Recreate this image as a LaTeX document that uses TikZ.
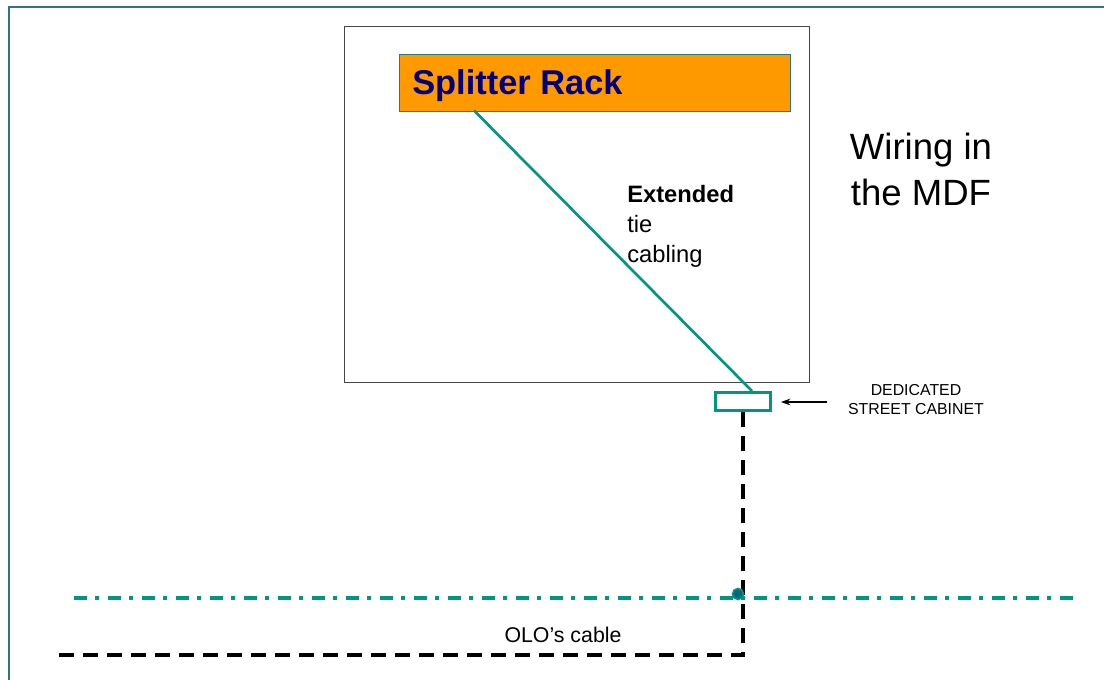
\documentclass[tikz,border=0pt]{standalone}
\usepackage{fontspec}
\setmainfont{Liberation Sans}
\usetikzlibrary{calc,arrows.meta}
\definecolor{tealc}{RGB}{0,150,130}
\definecolor{framec}{RGB}{40,120,135}
\definecolor{dotc}{RGB}{0,105,120}
\definecolor{navyc}{RGB}{0,0,128}
\definecolor{orangec}{RGB}{255,153,0}
\definecolor{grayc}{RGB}{70,70,70}
\tikzset{
  boxmdf/.style={draw=grayc,line width=1.1pt,minimum width=465*0.75pt,minimum height=356*0.75pt,anchor=north west,inner sep=0},
  rackbox/.style={draw=framec,line width=0.8pt,fill=orangec,minimum width=391*0.75pt,minimum height=57*0.75pt,anchor=north west,inner sep=0},
  cabbox/.style={draw=tealc,line width=2.2pt,minimum width=55*0.75pt,minimum height=18*0.75pt,inner sep=0},
  tieline/.style={draw=tealc,line width=2pt},
  olocable/.style={draw=black,line width=3pt,dash pattern=on 11.25pt off 6.75pt},
  boundary/.style={draw=tealc,line width=2.3pt,dash pattern=on 9.75pt off 6pt on 3pt off 6.75pt},
  lbl/.style={inner sep=0,align=left}
}
\begin{document}
\begin{tikzpicture}[x=0.75pt,y=-0.75pt]
\useasboundingbox (0,0) rectangle (1104,680);
\fill[white] (0,0) rectangle (1104,680);
% outer frame
\draw[framec,line width=1.6pt] (9,682) -- (9,7) -- (1106,7);
% MDF box
\node[boxmdf] (mdf) at (344,26) {};
% splitter rack
\node[rackbox] (rack) at (399,54) {};
\node[lbl,anchor=base west,font=\bfseries\fontsize{25.8}{30}\selectfont,text=navyc] (racktxt) at (412,95) {Splitter Rack};
% cabinet
\node[cabbox] (cab) at (743,401.5) {};
\coordinate (tiestart) at (474,110.5);
\draw[tieline] (tiestart) -- (cab.north -| 752,0);
% labels
\node[lbl,anchor=north west,font=\fontsize{17.8}{22.5}\selectfont] (tie) at (627,185) {\textbf{Extended}\\tie\\cabling};
\node[align=center,inner sep=0,font=\fontsize{27.4}{34.5}\selectfont] (wiring) at (921,169) {Wiring in\\the MDF};
\node[align=center,inner sep=0,font=\fontsize{11.9}{14.2}\selectfont] (cabtxt) at (916,400) {DEDICATED\\STREET CABINET};
\coordinate (arrfrom) at (827,402);
\draw[-{Stealth[length=7pt,width=5pt]},line width=0.8pt] (arrfrom) -- ($(cab.east)+(9,0.5)$);
% boundary line
\coordinate (bl) at (74,598);
\coordinate (br) at (1080,598);
\draw[boundary] (bl) -- (br);
% OLO cable
\coordinate (corner) at (743,655);
\coordinate (oloend) at (56,655);
\draw[olocable] (cab.south) -- (corner) -- (oloend);
\node[circle,fill=dotc,draw=tealc,line width=1.2pt,minimum size=11*0.75pt,inner sep=0] (junction) at (738,594) {};
\node[inner sep=0,anchor=base,font=\fontsize{16}{19}\selectfont] (olotxt) at (563,643) {OLO’s cable};
\end{tikzpicture}
\end{document}
